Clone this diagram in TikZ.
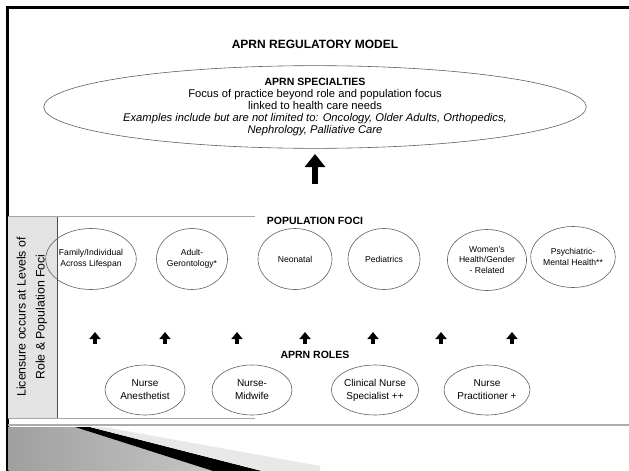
\documentclass[tikz,border=0pt]{standalone}
\usepackage{fontspec}
\setmainfont{Liberation Sans}
\usetikzlibrary{shapes.geometric,arrows.meta}
\tikzset{
  oval/.style={ellipse, draw=gray!75!black, line width=0.6pt, inner sep=0pt, align=center},
  focus/.style={oval, minimum width=64pt, minimum height=61pt, font=\fontsize{8.6}{10.8}\selectfont},
  rolebox/.style={oval, minimum width=80pt, minimum height=50pt, font=\fontsize{10}{13}\selectfont},
  headtxt/.style={font=\fontsize{10.5}{12}\selectfont\bfseries},
  smallarrow/.style={line width=3.4pt, -{Triangle[width=11pt,length=7pt]}},
  bigarrow/.style={line width=6.5pt, -{Triangle[width=20pt,length=13pt]}},
  rule/.style={draw=gray!70, line width=0.9pt}
}
\begin{document}
\begin{tikzpicture}[x=1pt,y=-1pt]
\useasboundingbox (0,0) rectangle (629,471);
\fill[white] (0,0) rectangle (629,471);
% frame
\draw[line width=3pt] (7,471) -- (7,7) -- (629,7);
% title
\node[font=\fontsize{12}{14}\selectfont\bfseries] (title) at (315,44) {APRN REGULATORY MODEL};
% specialties
\node[oval, minimum width=476pt, minimum height=76pt, font=\fontsize{11.2}{12.2}\selectfont] (spec) at (315,107)
 {{\fontsize{10.5}{12.2}\selectfont\bfseries APRN SPECIALTIES}\\Focus of practice beyond role and population focus\\linked to health care needs\\
  \textit{Examples include but are not limited to: Oncology, Older Adults, Orthopedics,}\\
  \textit{Nephrology, Palliative Care}};
\coordinate (bigB) at (315,184);
\coordinate (bigT) at (315,154);
\draw[bigarrow] (bigB) -- (bigT);
% side box
\fill[gray!22] (8,217) rectangle (57,418);
\draw[gray!60!black, line width=0.8pt] (57,217) -- (57,418);
\draw[rule] (8,216) -- (255,216);
\draw[rule] (8,418) -- (255,418);
\node[rotate=90, align=center, font=\fontsize{12.3}{19}\selectfont] (side) at (32,317)
 {Licensure occurs at Levels of\\Role \& Population Foci};
% population foci
\node[headtxt] (pophead) at (315,221) {POPULATION FOCI};
\node[focus, minimum width=66pt] (f1) at (91,259) {Family/Individual\\Across Lifespan};
\node[focus] (f2) at (192,259) {Adult-\\Gerontology*};
\node[focus, minimum width=74pt] (f3) at (295,259) {Neonatal};
\node[focus, minimum width=72pt] (f4) at (384,259) {Pediatrics};
\node[focus, minimum width=66pt] (f5) at (487,260) {Women's\\Health/Gender\\- Related};
\node[focus, minimum width=66pt] (f6) at (573,257) {Psychiatric-\\Mental Health**};
% small arrows
\foreach \i/\x in {1/95,2/165,3/237,4/305,5/373,6/441,7/512}{
  \coordinate (sb\i) at (\x,344);
  \coordinate (st\i) at (\x,332);
  \draw[smallarrow] (sb\i) -- (st\i);
}
% roles
\node[headtxt] (rolehead) at (315,355) {APRN ROLES};
\node[rolebox] (r1) at (145,390) {Nurse\\Anesthetist};
\node[rolebox] (r2) at (252,390) {Nurse-\\Midwife};
\node[rolebox] (r3) at (375,390) {Clinical Nurse\\Specialist ++};
\node[rolebox, minimum width=86pt] (r4) at (487,390) {Nurse\\Practitioner +};
% bottom rule
\draw[gray!65, line width=2pt] (8,424.5) -- (629,424.5);
% bottom-left decoration
\shade[left color=gray!75, right color=gray!45] (8.5,427) -- (75,427) -- (213,471) -- (8.5,471) -- cycle;
\fill[black] (75,427) -- (90,427) -- (262,471) -- (213,471) -- cycle;
\fill[gray!18] (90,427) -- (104,427) -- (320,466) -- (320,471) -- (262,471) -- cycle;
\end{tikzpicture}
\end{document}
